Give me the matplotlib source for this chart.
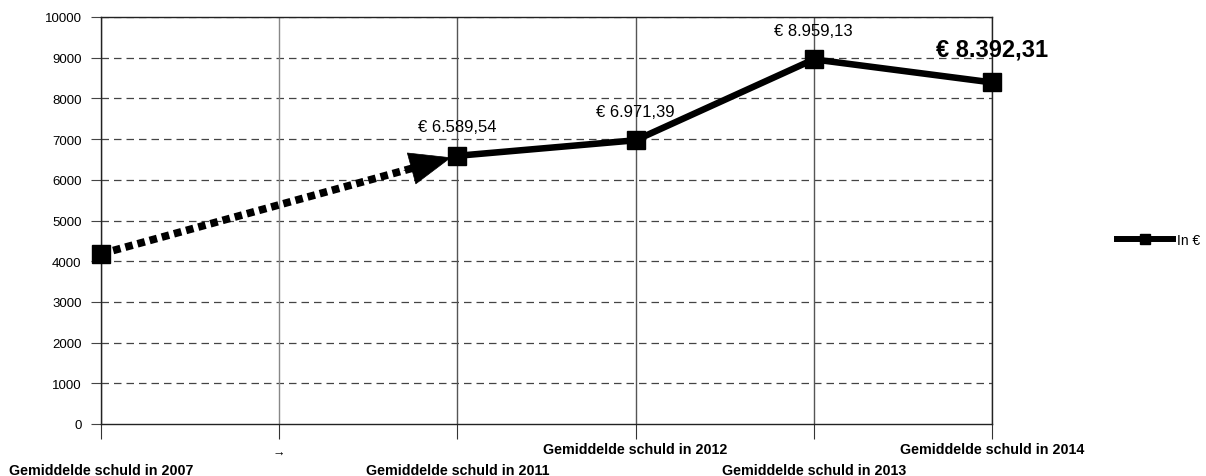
import matplotlib
matplotlib.use("Agg")
import matplotlib.pyplot as plt
from matplotlib.lines import Line2D

# Data
categories = ["Gemiddelde schuld in 2007", "\u2192", "Gemiddelde schuld in 2011",
              "Gemiddelde schuld in 2012", "Gemiddelde schuld in 2013",
              "Gemiddelde schuld in 2014"]
label_low = [True, False, True, False, True, False]
point_pos = [0, 2, 3, 4, 5]
values = [4180, 6589.54, 6971.39, 8959.13, 8392.31]
value_labels = [None, "\u20ac 6.589,54", "\u20ac 6.971,39", "\u20ac 8.959,13", "\u20ac 8.392,31"]
yticks = list(range(0, 10001, 1000))
series_name = "In \u20ac"

plt.rcParams['font.family'] = ['Liberation Sans', 'DejaVu Sans']

fig = plt.figure(figsize=(12.06, 4.77), dpi=100)
ax = fig.add_axes([101/1206, 1-425/477, (992-101)/1206, (425-18)/477])

ax.set_xlim(0, len(categories) - 1)
ax.set_ylim(0, 10000)
ax.set_yticks(yticks)
ax.set_yticklabels([str(t) for t in yticks], fontsize=9.5)
ax.set_xticks(range(len(categories)))
ax.set_xticklabels([])

# grid
for y in yticks[1:]:
    ax.axhline(y, color="#444444", lw=0.9, ls=(0, (6, 4)), zorder=1)
for i in range(len(categories)):
    ax.axvline(i, color="#555555" if i != 1 else "#888888", lw=1.0, zorder=1)

for s in ["left", "bottom", "top", "right"]:
    ax.spines[s].set_color("#222222")
    ax.spines[s].set_linewidth(1.0)
ax.tick_params(axis="y", length=7, color="#444444", pad=7)
ax.tick_params(axis="x", length=11, color="#333333")

# x category labels (alternating heights)
ax_h = 425 - 18
for i, (lab, low) in enumerate(zip(categories, label_low)):
    if lab == "\u2192":
        ax.text(i, -(454 - 425) / ax_h, lab, transform=ax.get_xaxis_transform(),
                ha="center", va="center", fontsize=9)
    else:
        yy = -(471 - 425) / ax_h if low else -(450 - 425) / ax_h
        ax.text(i, yy, lab, transform=ax.get_xaxis_transform(), ha="center",
                va="center", fontsize=10.3, fontweight="bold")

# dashed arrow segment 2007 -> 2011
x0, y0 = point_pos[0], values[0]
x1, y1 = point_pos[1], values[1]
fx = 0.89
ax.plot([x0, x0 + (x1 - x0) * fx], [y0, y0 + (y1 - y0) * fx], color="black",
        lw=5.5, ls=(0, (1, 0.65)), solid_capstyle="butt", dash_capstyle="butt",
        zorder=3, clip_on=False)
ax.annotate("", xy=(x0 + (x1 - x0) * 0.983, y0 + (y1 - y0) * 0.983),
            xytext=(x0 + (x1 - x0) * 0.85, y0 + (y1 - y0) * 0.85),
            arrowprops=dict(arrowstyle="-|>,head_length=2.9,head_width=1.15",
                            color="black", lw=0.5, shrinkA=0, shrinkB=0), zorder=4)

# solid line
ax.plot(point_pos[1:], values[1:], color="black", lw=4.7, zorder=3, clip_on=False)
ax.plot(point_pos, values, ls="none", marker="s", markersize=12.5,
        color="black", zorder=5, clip_on=False)

# data labels
for x, v, lab in zip(point_pos, values, value_labels):
    if lab is None:
        continue
    if lab.endswith("8.392,31"):
        ax.annotate(lab, (x, v), xytext=(0, 24), textcoords="offset points",
                    ha="center", va="center", fontsize=17, fontweight="bold")
    else:
        ax.annotate(lab, (x, v), xytext=(0, 21), textcoords="offset points",
                    ha="center", va="center", fontsize=12)

handle = Line2D([], [], color="black", lw=4.3, marker="s", markersize=6.5)
fig.legend([handle], [series_name], loc="center left",
           bbox_to_anchor=(1117/1206, 1-241/477), frameon=False, fontsize=10,
           handlelength=4.0, handletextpad=0.3, borderpad=0, borderaxespad=0)

fig.savefig("out.png", dpi=100)
